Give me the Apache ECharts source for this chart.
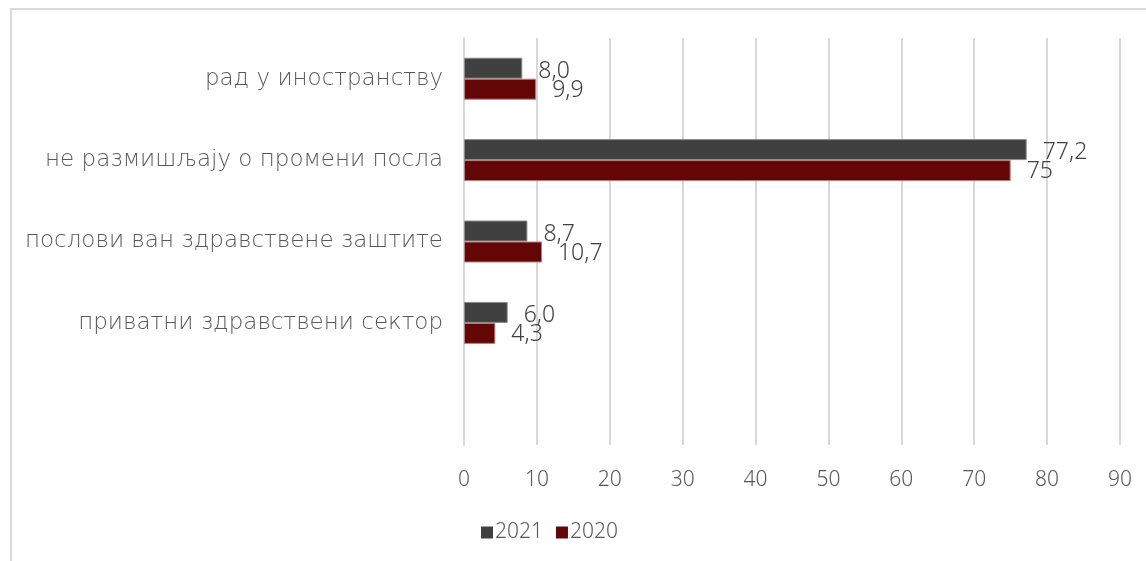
<!DOCTYPE html>
<html>
<head>
<meta charset="utf-8">
<script src="https://cdn.jsdelivr.net/npm/echarts@6/dist/echarts.min.js"></script>
<style>
  html, body { margin: 0; padding: 0; background: #fff; }
  #chart { width: 1146px; height: 561px; }
</style>
</head>
<body>
<div id="chart"></div>
<script>
// Categories, top to bottom (last slot is left empty)
const categories = [
  'рад у иностранству',
  'не размишљају о промени посла',
  'послови ван здравствене заштите',
  'приватни здравствени сектор',
  ''
];
const values2021 = [8.0, 77.2, 8.7, 6.0];
const values2020 = [9.9, 75, 10.7, 4.3];
// decimals shown in each value label
const decimals2021 = [1, 1, 1, 1];
const decimals2020 = [1, 0, 1, 1];
const xTicks = [0, 10, 20, 30, 40, 50, 60, 70, 80, 90];

const CAT_FONT = '"DejaVu Sans", sans-serif';
const NUM_FONT = '"Noto Sans", sans-serif';

function fmt(decs) {
  return p => p.value.toFixed(decs[p.dataIndex]).replace('.', ',');
}

const chart = echarts.init(document.getElementById('chart'), null, { renderer: 'canvas' });
chart.setOption({
  animation: false,
  backgroundColor: '#fff',
  graphic: [{
    type: 'rect',
    shape: { x: 11, y: 9, width: 1200, height: 620 },
    style: { fill: 'none', stroke: '#d9d9d9', lineWidth: 2 },
    silent: true
  }],
  grid: { left: 464, right: 26, top: 38, bottom: 116, containLabel: false },
  legend: {
    left: 476,
    top: 517,
    itemWidth: 12,
    itemHeight: 12,
    itemGap: 13,
    icon: 'rect',
    itemStyle: { borderWidth: 0 },
    textStyle: { fontFamily: NUM_FONT, fontWeight: 300, fontSize: 21, color: '#595959', padding: [0, 0, 0, -3] },
    data: ['2021', '2020']
  },
  xAxis: {
    type: 'value',
    min: xTicks[0],
    max: xTicks[xTicks.length - 1],
    interval: 10,
    axisLine: { show: false },
    axisTick: { show: false },
    splitLine: { show: true, lineStyle: { color: '#d9d9d9', width: 2 } },
    axisLabel: { fontFamily: NUM_FONT, fontWeight: 300, fontSize: 21, color: '#595959', margin: 25 }
  },
  yAxis: {
    type: 'category',
    inverse: true,
    data: categories,
    axisLine: { show: true, lineStyle: { color: '#d9d9d9', width: 2 } },
    axisTick: { show: false },
    axisLabel: { fontFamily: CAT_FONT, fontWeight: 200, fontSize: 23, color: '#595959', margin: 21 }
  },
  series: [
    {
      name: '2021',
      type: 'bar',
      data: values2021,
      barWidth: 21,
      barGap: '0%',
      itemStyle: { color: '#404040', borderColor: '#8c8c8c', borderWidth: 1 },
      label: {
        show: true, position: 'right', distance: 16,
        offset: [0, 3],
        fontFamily: NUM_FONT, fontWeight: 300, fontSize: 23, color: '#404040',
        formatter: fmt(decimals2021)
      }
    },
    {
      name: '2020',
      type: 'bar',
      data: values2020,
      barWidth: 21,
      barGap: '0%',
      itemStyle: { color: '#640606', borderColor: '#b08080', borderWidth: 1 },
      label: {
        show: true, position: 'right', distance: 16,
        offset: [0, 1],
        fontFamily: NUM_FONT, fontWeight: 300, fontSize: 23, color: '#404040',
        formatter: fmt(decimals2020)
      }
    }
  ]
});
</script>
</body>
</html>
